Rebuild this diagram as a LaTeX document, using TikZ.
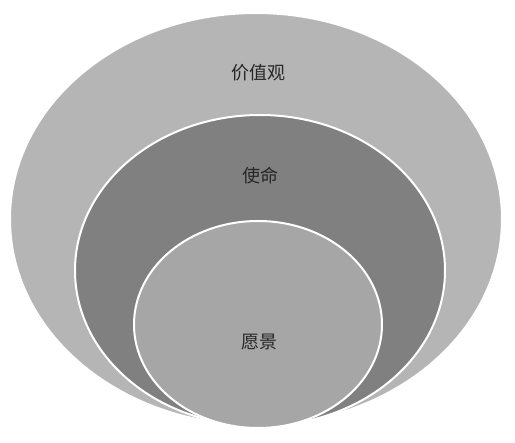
\documentclass[tikz,border=0pt]{standalone}
\usepackage{fontspec}
\newfontfamily\cjk{Noto Sans CJK SC}
\begin{document}
\begin{tikzpicture}[x=1pt,y=-1pt,
  ring/.style={draw=white,line width=2pt},
  lbl/.style={font=\cjk\fontsize{18}{20}\selectfont,text=black!85}]
\useasboundingbox (0,0) rectangle (515,443);
\fill[white] (0,0) rectangle (515,443);
\definecolor{outerc}{gray}{0.71}
\definecolor{midc}{gray}{0.50}
\definecolor{innerc}{gray}{0.65}
\path[ring,fill=outerc] (256,219) ellipse [x radius=246, y radius=206];
\path[ring,fill=midc] (260,270.5) ellipse [x radius=185, y radius=155.5];
\path[ring,fill=innerc] (258,324.5) ellipse [x radius=124, y radius=103.5];
\node[lbl] (v) at (258,73) {价值观};
\node[lbl] (m) at (260,176) {使命};
\node[lbl] (j) at (259,342) {愿景};
\end{tikzpicture}
\end{document}
